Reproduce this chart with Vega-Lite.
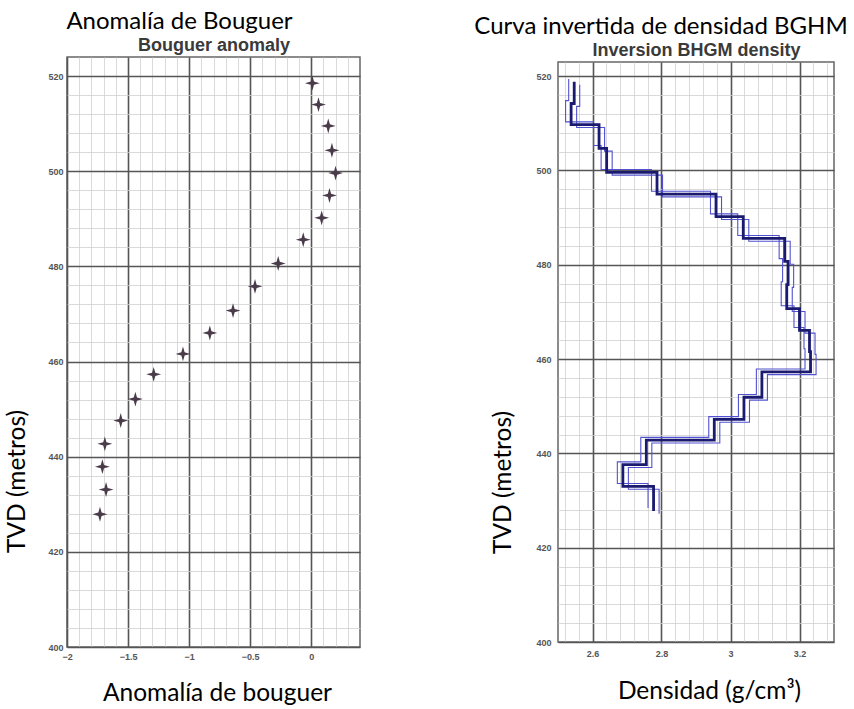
{
  "$schema": "https://vega.github.io/schema/vega-lite/v6.json",
  "padding": {"left": 3, "top": 9, "right": 5, "bottom": 5},
  "background": "white",
  "config": {
    "view": {"stroke": "#666", "strokeWidth": 1.5},
    "font": "Liberation Sans"
  },
  "spacing": 198,
  "bounds": "flush",
  "center": true,
  "hconcat": [
    {
      "width": 293,
      "height": 590,
      "title": {"text": "Anomalía de Bouguer", "dx": -34, "font": "Lato", "fontSize": 24, "fontWeight": "normal", "color": "#000", "offset": 2},
      "data": {"values": [
        {"depth": 518.5, "anomaly": 0.01},
        {"depth": 514.0, "anomaly": 0.06},
        {"depth": 509.5, "anomaly": 0.14},
        {"depth": 504.4, "anomaly": 0.17},
        {"depth": 499.6, "anomaly": 0.20},
        {"depth": 494.9, "anomaly": 0.15},
        {"depth": 490.2, "anomaly": 0.086},
        {"depth": 485.6, "anomaly": -0.065},
        {"depth": 480.6, "anomaly": -0.27},
        {"depth": 475.8, "anomaly": -0.46},
        {"depth": 470.7, "anomaly": -0.64},
        {"depth": 466.0, "anomaly": -0.83},
        {"depth": 461.6, "anomaly": -1.05},
        {"depth": 457.3, "anomaly": -1.29},
        {"depth": 452.1, "anomaly": -1.44},
        {"depth": 447.6, "anomaly": -1.56},
        {"depth": 442.7, "anomaly": -1.69},
        {"depth": 437.9, "anomaly": -1.71},
        {"depth": 433.1, "anomaly": -1.68},
        {"depth": 427.9, "anomaly": -1.73}
      ]},
      "encoding": {
        "y": {"field": "depth", "type": "quantitative",
          "scale": {"domain": [400, 524], "nice": false, "zero": false},
          "axis": {
            "values": [400,404,408,412,416,420,424,428,432,436,440,444,448,452,456,460,464,468,472,476,480,484,488,492,496,500,504,508,512,516,520],
            "labelExpr": "datum.value % 20 == 0 ? datum.label : ''",
            "labelOverlap": false, "grid": true,
            "gridColor": {"condition": {"test": "datum.value % 20 == 0", "value": "#555"}, "value": "#d0d0d0"},
            "gridWidth": {"condition": {"test": "datum.value % 20 == 0", "value": 1.6}, "value": 0.8},
            "ticks": false, "domain": false,
            "labelPadding": 4, "labelFontSize": 9, "labelFontWeight": "bold", "labelColor": "#555",
            "title": "TVD (metros)", "titleFont": "Lato", "titleFontSize": 24.5, "titleFontWeight": "normal", "titleColor": "#000",
            "titleX": -50, "titleY": 424, "titleAlign": "center", "titleBaseline": "middle", "titleAngle": -90
          }
        }
      },
      "layer": [
        {
          "mark": {"type": "point", "shape": "M-1,0L-0.22,-0.22L0,-1L0.22,-0.22L1,0L0.22,0.22L0,1L-0.22,0.22Z", "filled": true, "color": "#4a3b4a", "size": 220, "opacity": 1},
          "encoding": {
            "x": {"field": "anomaly", "type": "quantitative",
              "scale": {"domain": [-2, 0.4], "nice": false, "zero": false},
              "axis": {
                "values": [-2,-1.9,-1.8,-1.7,-1.6,-1.5,-1.4,-1.3,-1.2,-1.1,-1,-0.9,-0.8,-0.7,-0.6,-0.5,-0.4,-0.3,-0.2,-0.1,0,0.1,0.2,0.3],
                "labelExpr": "abs(datum.value*2 - round(datum.value*2)) < 0.001 ? format(datum.value, '~g') : ''",
                "labelOverlap": false, "labelFlush": false, "grid": true,
                "gridColor": {"condition": {"test": "abs(datum.value*2 - round(datum.value*2)) < 0.001", "value": "#555"}, "value": "#d0d0d0"},
                "gridWidth": {"condition": {"test": "abs(datum.value*2 - round(datum.value*2)) < 0.001", "value": 1.6}, "value": 0.8},
                "ticks": false, "domain": false,
                "labelPadding": 5, "labelFontSize": 9, "labelFontWeight": "bold", "labelColor": "#555",
                "title": "Anomalía de bouguer", "titleFont": "Lato", "titleFontSize": 24.5, "titleFontWeight": "normal", "titleColor": "#000",
                "titleX": 150, "titleY": 46, "titleAlign": "center", "titleBaseline": "middle"
              }
            }
          }
        },
        {
          "mark": {"type": "point", "opacity": 0},
          "encoding": {
            "x": {"field": "anomaly", "type": "quantitative",
              "axis": {"orient": "top", "labels": false, "ticks": false, "domain": false, "grid": false,
                "title": "Bouguer anomaly", "titleFont": "Liberation Sans", "titleFontSize": 18, "titleFontWeight": "bold", "titleColor": "#3a3a3a", "titlePadding": 3}
            }
          }
        }
      ],
      "resolve": {"axis": {"x": "independent"}}
    },
    {
      "width": 276,
      "height": 580,
      "title": {"text": "Curva invertida de densidad BGHM", "dx": -35, "font": "Lato", "fontSize": 24, "fontWeight": "normal", "color": "#000", "offset": 2},
      "data": {"values": [
        {"i": 0, "d": 518.8, "m": 2.547, "dl": 519.4, "l": 2.531, "dh": 518.2, "h": 2.563},
        {"i": 1, "d": 514.2, "m": 2.547, "dl": 514.8, "l": 2.531, "dh": 513.6, "h": 2.563},
        {"i": 2, "d": 514.2, "m": 2.538, "dl": 514.8, "l": 2.522, "dh": 513.6, "h": 2.554},
        {"i": 3, "d": 509.7, "m": 2.538, "dl": 510.3, "l": 2.522, "dh": 509.1, "h": 2.554},
        {"i": 4, "d": 509.7, "m": 2.619, "dl": 510.3, "l": 2.603, "dh": 509.1, "h": 2.635},
        {"i": 5, "d": 504.7, "m": 2.619, "dl": 505.3, "l": 2.603, "dh": 504.1, "h": 2.635},
        {"i": 6, "d": 504.7, "m": 2.641, "dl": 505.3, "l": 2.625, "dh": 504.1, "h": 2.657},
        {"i": 7, "d": 499.6, "m": 2.641, "dl": 500.2, "l": 2.625, "dh": 499.0, "h": 2.657},
        {"i": 8, "d": 499.6, "m": 2.787, "dl": 500.2, "l": 2.771, "dh": 499.0, "h": 2.803},
        {"i": 9, "d": 495.0, "m": 2.787, "dl": 495.6, "l": 2.771, "dh": 494.4, "h": 2.803},
        {"i": 10, "d": 495.0, "m": 2.958, "dl": 495.6, "l": 2.942, "dh": 494.4, "h": 2.974},
        {"i": 11, "d": 490.2, "m": 2.958, "dl": 490.8, "l": 2.942, "dh": 489.6, "h": 2.974},
        {"i": 12, "d": 490.2, "m": 3.037, "dl": 490.8, "l": 3.021, "dh": 489.6, "h": 3.053},
        {"i": 13, "d": 485.6, "m": 3.037, "dl": 486.2, "l": 3.021, "dh": 485.0, "h": 3.053},
        {"i": 14, "d": 485.6, "m": 3.157, "dl": 486.2, "l": 3.141, "dh": 485.0, "h": 3.173},
        {"i": 15, "d": 480.7, "m": 3.157, "dl": 481.3, "l": 3.141, "dh": 480.1, "h": 3.173},
        {"i": 16, "d": 480.7, "m": 3.167, "dl": 481.3, "l": 3.151, "dh": 480.1, "h": 3.183},
        {"i": 17, "d": 475.8, "m": 3.167, "dl": 476.4, "l": 3.151, "dh": 475.2, "h": 3.183},
        {"i": 18, "d": 475.8, "m": 3.163, "dl": 476.4, "l": 3.147, "dh": 475.2, "h": 3.179},
        {"i": 19, "d": 470.7, "m": 3.163, "dl": 471.3, "l": 3.147, "dh": 470.1, "h": 3.179},
        {"i": 20, "d": 470.7, "m": 3.200, "dl": 471.3, "l": 3.184, "dh": 470.1, "h": 3.216},
        {"i": 21, "d": 466.1, "m": 3.200, "dl": 466.7, "l": 3.184, "dh": 465.5, "h": 3.216},
        {"i": 22, "d": 466.1, "m": 3.229, "dl": 466.7, "l": 3.213, "dh": 465.5, "h": 3.245},
        {"i": 23, "d": 461.6, "m": 3.229, "dl": 462.2, "l": 3.213, "dh": 461.0, "h": 3.245},
        {"i": 24, "d": 461.6, "m": 3.232, "dl": 462.2, "l": 3.216, "dh": 461.0, "h": 3.248},
        {"i": 25, "d": 457.3, "m": 3.232, "dl": 457.9, "l": 3.216, "dh": 456.7, "h": 3.248},
        {"i": 26, "d": 457.3, "m": 3.091, "dl": 457.9, "l": 3.075, "dh": 456.7, "h": 3.107},
        {"i": 27, "d": 451.9, "m": 3.091, "dl": 452.5, "l": 3.075, "dh": 451.3, "h": 3.107},
        {"i": 28, "d": 451.9, "m": 3.039, "dl": 452.5, "l": 3.023, "dh": 451.3, "h": 3.055},
        {"i": 29, "d": 447.2, "m": 3.039, "dl": 447.8, "l": 3.023, "dh": 446.6, "h": 3.055},
        {"i": 30, "d": 447.2, "m": 2.953, "dl": 447.8, "l": 2.937, "dh": 446.6, "h": 2.969},
        {"i": 31, "d": 442.8, "m": 2.953, "dl": 443.4, "l": 2.937, "dh": 442.2, "h": 2.969},
        {"i": 32, "d": 442.8, "m": 2.756, "dl": 443.4, "l": 2.740, "dh": 442.2, "h": 2.772},
        {"i": 33, "d": 437.6, "m": 2.756, "dl": 438.2, "l": 2.740, "dh": 437.0, "h": 2.772},
        {"i": 34, "d": 437.6, "m": 2.688, "dl": 438.2, "l": 2.672, "dh": 437.0, "h": 2.704},
        {"i": 35, "d": 433.0, "m": 2.688, "dl": 433.6, "l": 2.672, "dh": 432.4, "h": 2.704},
        {"i": 36, "d": 433.0, "m": 2.777, "dl": 433.6, "l": 2.761, "dh": 432.4, "h": 2.793},
        {"i": 37, "d": 427.8, "m": 2.777, "dl": 428.4, "l": 2.761, "dh": 427.2, "h": 2.793}
      ]},
      "layer": [
        {
          "mark": {"type": "line", "color": "#5252d0", "strokeWidth": 1.1},
          "encoding": {
            "x": {"field": "l", "type": "quantitative", "scale": {"domain": [2.5, 3.3], "nice": false, "zero": false},
              "axis": {
                "values": [2.52,2.56,2.6,2.64,2.68,2.72,2.76,2.8,2.84,2.88,2.92,2.96,3,3.04,3.08,3.12,3.16,3.2,3.24,3.28],
                "labelExpr": "abs(datum.value*5 - round(datum.value*5)) < 0.001 ? format(datum.value, '~g') : ''",
                "labelOverlap": false, "labelFlush": false, "grid": true,
                "gridColor": {"condition": {"test": "abs(datum.value*5 - round(datum.value*5)) < 0.001", "value": "#555"}, "value": "#d0d0d0"},
                "gridWidth": {"condition": {"test": "abs(datum.value*5 - round(datum.value*5)) < 0.001", "value": 1.6}, "value": 0.8},
                "ticks": false, "domain": false,
                "labelPadding": 7, "labelFontSize": 9, "labelFontWeight": "bold", "labelColor": "#555",
                "title": "Densidad (g/cm³)", "titleFont": "Lato", "titleFontSize": 24.5, "titleFontWeight": "normal", "titleColor": "#000",
                "titleX": 151, "titleY": 49, "titleAlign": "center", "titleBaseline": "middle"
              }
            },
            "y": {"field": "dl", "type": "quantitative", "scale": {"domain": [400, 523], "nice": false, "zero": false},
              "axis": {
                "values": [400,404,408,412,416,420,424,428,432,436,440,444,448,452,456,460,464,468,472,476,480,484,488,492,496,500,504,508,512,516,520],
                "labelExpr": "datum.value % 20 == 0 ? datum.label : ''",
                "labelOverlap": false, "grid": true,
                "gridColor": {"condition": {"test": "datum.value % 20 == 0", "value": "#555"}, "value": "#d0d0d0"},
                "gridWidth": {"condition": {"test": "datum.value % 20 == 0", "value": 1.6}, "value": 0.8},
                "ticks": false, "domain": false,
                "labelPadding": 7, "labelFontSize": 9, "labelFontWeight": "bold", "labelColor": "#555",
                "title": "TVD (metros)", "titleFont": "Lato", "titleFontSize": 24.5, "titleFontWeight": "normal", "titleColor": "#000",
                "titleX": -55, "titleY": 420, "titleAlign": "center", "titleBaseline": "middle", "titleAngle": -90
              }
            },
            "order": {"field": "i", "type": "quantitative"}
          }
        },
        {
          "mark": {"type": "line", "color": "#5252d0", "strokeWidth": 1.1},
          "encoding": {
            "x": {"field": "h", "type": "quantitative", "axis": null},
            "y": {"field": "dh", "type": "quantitative", "axis": null},
            "order": {"field": "i", "type": "quantitative"}
          }
        },
        {
          "mark": {"type": "line", "color": "#1a1a70", "strokeWidth": 2.8},
          "encoding": {
            "x": {"field": "m", "type": "quantitative", "axis": null},
            "y": {"field": "d", "type": "quantitative", "axis": null},
            "order": {"field": "i", "type": "quantitative"}
          }
        },
        {
          "mark": {"type": "line", "opacity": 0},
          "encoding": {
            "x": {"field": "m", "type": "quantitative",
              "axis": {"orient": "top", "labels": false, "ticks": false, "domain": false, "grid": false,
                "title": "Inversion BHGM density", "titleFont": "Liberation Sans", "titleFontSize": 18, "titleFontWeight": "bold", "titleColor": "#3a3a3a", "titlePadding": 3}
            },
            "y": {"field": "d", "type": "quantitative", "axis": null},
            "order": {"field": "i", "type": "quantitative"}
          }
        }
      ],
      "resolve": {"axis": {"x": "independent", "y": "independent"}}
    }
  ]
}
